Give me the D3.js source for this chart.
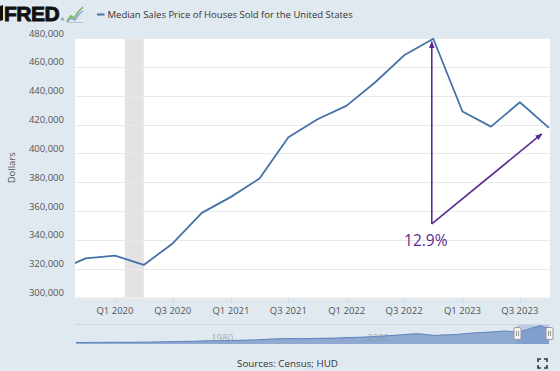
<!DOCTYPE html>
<html>
<head>
<meta charset="utf-8">
<script src="https://cdn.jsdelivr.net/npm/d3@7"></script>
<style>
  html, body { margin: 0; padding: 0; background: #e1e9f0; }
  svg { display: block; font-family: "Open Sans", sans-serif; }
</style>
</head>
<body>
<div id="chart"></div>
<script>
// --- data ---
const quarterDates = ["2019-07-01", "2019-10-01", "2020-01-01", "2020-04-01", "2020-07-01", "2020-10-01",
  "2021-01-01", "2021-04-01", "2021-07-01", "2021-10-01", "2022-01-01", "2022-04-01", "2022-07-01",
  "2022-10-01", "2023-01-01", "2023-04-01", "2023-07-01", "2023-10-01"];
const prices = [318400, 327100, 329000, 322600, 337500, 358700, 369800, 382600, 411200, 423600,
  433100, 449300, 468000, 479500, 429000, 418500, 435400, 417700];

const yTicks = [300000, 320000, 340000, 360000, 380000, 400000, 420000, 440000, 460000, 480000];
const xTickDates = ["2020-01-01", "2020-07-01", "2021-01-01", "2021-07-01", "2022-01-01", "2022-07-01", "2023-01-01", "2023-07-01"];
const xTickLabels = ["Q1 2020", "Q3 2020", "Q1 2021", "Q3 2021", "Q1 2022", "Q3 2022", "Q1 2023", "Q3 2023"];
const viewStart = "2019-08-28";
const viewEnd = "2023-10-01";
const recession = ["2020-02-01", "2020-04-01"];

// annotation: arrows from a common origin to the peak and to the latest value
const annoOrigin = { date: "2022-10-01", value: 351000 };
const annoTips = [
  { date: "2022-10-01", value: 477500 },
  { date: "2023-09-08", value: 413500 }
];
const annoLabel = "12.9%";

// navigator (full history, approx.)
const navDates = ["1963-01-01", "1965-01-01", "1968-01-01", "1970-01-01", "1972-01-01", "1974-01-01",
  "1976-01-01", "1978-01-01", "1980-01-01", "1982-01-01", "1984-01-01", "1986-01-01", "1988-01-01",
  "1990-01-01", "1992-01-01", "1994-01-01", "1996-01-01", "1998-01-01", "2000-01-01", "2002-01-01",
  "2004-01-01", "2006-01-01", "2007-01-01", "2008-01-01", "2009-01-01", "2010-01-01", "2011-01-01",
  "2012-01-01", "2013-01-01", "2014-01-01", "2015-01-01", "2016-01-01", "2017-01-01", "2018-01-01",
  "2019-01-01", "2020-04-01", "2021-01-01", "2021-07-01", "2022-01-01", "2022-10-01", "2023-04-01",
  "2023-07-01", "2023-10-01"];
const navValues = [17800, 20000, 24700, 23900, 26900, 35200, 42800, 51600, 63700, 66400, 78200, 88000,
  110000, 123900, 119500, 130000, 137000, 152000, 165300, 188700, 212700, 247700, 257400, 233900,
  208400, 222900, 226900, 238400, 258400, 275200, 289200, 299800, 313100, 331800, 313000, 322600,
  369800, 411200, 433100, 479500, 418500, 435400, 417700];
const navTickDates = ["1980-01-01", "2000-01-01"];
const navTickLabels = ["1980", "2000"];

const title = "Median Sales Price of Houses Sold for the United States";
const yTitle = "Dollars";
const source = "Sources: Census; HUD";

// --- layout ---
const width = 560, height = 371;
const plot = { left: 75, right: 550, top: 38, bottom: 297.5 };
const nav = { top: 325, bottom: 344 };
const lineColor = "#4572a7";
const annoColor = "#5b2a91";
const parse = d3.utcParse("%Y-%m-%d");

const svg = d3.select("#chart").append("svg")
  .attr("width", width).attr("height", height);

svg.append("rect").attr("width", width).attr("height", height).attr("fill", "#e1e9f0");

const x = d3.scaleUtc().domain([parse(viewStart), parse(viewEnd)]).range([plot.left, plot.right - 1]);
const y = d3.scaleLinear().domain([300000, 480000]).range([plot.bottom, plot.top]);

// plot background
svg.append("rect")
  .attr("x", plot.left).attr("y", plot.top)
  .attr("width", plot.right - plot.left).attr("height", plot.bottom - plot.top)
  .attr("fill", "#ffffff");

// recession band
svg.append("rect")
  .attr("x", x(parse(recession[0]))).attr("y", plot.top)
  .attr("width", x(parse(recession[1])) - x(parse(recession[0])))
  .attr("height", plot.bottom - plot.top)
  .attr("fill", "#e3e3e3");

// gridlines + y labels
svg.append("g").selectAll("line").data(yTicks).join("line")
  .attr("x1", plot.left).attr("x2", plot.right)
  .attr("y1", d => Math.round(y(d)) + 0.5).attr("y2", d => Math.round(y(d)) + 0.5)
  .attr("stroke", "#e9e9e9").attr("stroke-width", 1);

svg.append("g").selectAll("text").data(yTicks).join("text")
  .attr("x", 64).attr("y", d => y(d) - 1.5)
  .attr("text-anchor", "end")
  .attr("font-size", 9.5).attr("fill", "#555")
  .text(d => d3.format(",")(d));

svg.append("text")
  .attr("transform", `translate(15,${(plot.top + plot.bottom) / 2}) rotate(-90)`)
  .attr("text-anchor", "middle")
  .attr("font-size", 9.5).attr("fill", "#555")
  .text(yTitle);

// x ticks + labels
const xTicks = xTickDates.map(parse);
svg.append("g").selectAll("line").data(xTicks).join("line")
  .attr("x1", d => Math.round(x(d)) + 0.5).attr("x2", d => Math.round(x(d)) + 0.5)
  .attr("y1", plot.bottom + 1).attr("y2", plot.bottom + 6)
  .attr("stroke", "#ccd6eb");

svg.append("g").selectAll("text").data(xTicks).join("text")
  .attr("x", d => x(d)).attr("y", 313.5)
  .attr("text-anchor", "middle")
  .attr("font-size", 9.5).attr("fill", "#555")
  .text((d, i) => xTickLabels[i]);

// series line (clipped to the plot)
svg.append("clipPath").attr("id", "clip")
  .append("rect")
  .attr("x", plot.left).attr("y", plot.top - 5)
  .attr("width", plot.right - plot.left).attr("height", plot.bottom - plot.top + 10);

const series = quarterDates.map((d, i) => ({ date: parse(d), value: prices[i] }));
svg.append("path")
  .datum(series)
  .attr("clip-path", "url(#clip)")
  .attr("fill", "none")
  .attr("stroke", lineColor)
  .attr("stroke-width", 1.8)
  .attr("stroke-linejoin", "round")
  .attr("d", d3.line().x(d => x(d.date)).y(d => y(d.value)));

// annotation arrows
const defs = svg.append("defs");
defs.append("marker")
  .attr("id", "arrow")
  .attr("viewBox", "0 0 10 10")
  .attr("refX", 9).attr("refY", 5)
  .attr("markerWidth", 7).attr("markerHeight", 7)
  .attr("markerUnits", "userSpaceOnUse")
  .attr("orient", "auto")
  .append("path")
  .attr("d", "M0,1 L10,5 L0,9 Z")
  .attr("fill", annoColor);

const ox = x(parse(annoOrigin.date)) - 1.5, oy = y(annoOrigin.value);
svg.append("g").selectAll("line").data(annoTips).join("line")
  .attr("x1", ox).attr("y1", oy)
  .attr("x2", d => x(parse(d.date)) - (d.date === annoOrigin.date ? 1.5 : 0))
  .attr("y2", d => y(d.value))
  .attr("stroke", annoColor).attr("stroke-width", 1.6)
  .attr("marker-end", "url(#arrow)");

svg.append("text")
  .attr("x", ox - 6).attr("y", oy + 22.5)
  .attr("text-anchor", "middle")
  .attr("font-size", 15.5).attr("fill", annoColor)
  .attr("font-family", "'Open Sans', sans-serif")
  .text(annoLabel);

// --- navigator ---
const nx = d3.scaleUtc().domain([parse(navDates[0]), parse(viewEnd)]).range([plot.left + 1, plot.right - 1]);
const ny = d3.scaleLinear().domain([d3.min(navValues), d3.max(navValues)]).range([nav.bottom - 1.5, nav.top + 0.5]);
const navSeries = navDates.map((d, i) => ({ date: parse(d), value: navValues[i] }));

svg.append("line")
  .attr("x1", plot.left).attr("x2", plot.right)
  .attr("y1", nav.top - 0.5).attr("y2", nav.top - 0.5)
  .attr("stroke", "#cfd6de");

svg.append("path")
  .datum(navSeries)
  .attr("fill", "#8fa9d1")
  .attr("d", d3.area().x(d => nx(d.date)).y0(nav.bottom).y1(d => ny(d.value)));

svg.append("path")
  .datum(navSeries)
  .attr("fill", "none").attr("stroke", "#5b82bb").attr("stroke-width", 1)
  .attr("d", d3.line().x(d => nx(d.date)).y(d => ny(d.value)));

// selected range mask
const s0 = nx(parse(viewStart)), s1 = nx(parse(viewEnd));
svg.append("rect")
  .attr("x", s0).attr("y", nav.top).attr("width", s1 - s0).attr("height", nav.bottom - nav.top)
  .attr("fill", "rgba(102,133,194,0.3)");

// navigator labels
svg.append("g").selectAll("text").data(navTickDates).join("text")
  .attr("x", d => nx(parse(d)) + 3).attr("y", 340.5)
  .attr("font-size", 9.5).attr("fill", "#8a97a8").attr("opacity", 0.75)
  .text((d, i) => navTickLabels[i]);

// handles
const handles = svg.append("g").selectAll("g").data([s0, s1]).join("g")
  .attr("transform", d => `translate(${Math.round(d) + 0.5},0)`);
handles.append("rect")
  .attr("x", -3.5).attr("y", 327.5).attr("width", 7).attr("height", 12).attr("rx", 1.5)
  .attr("fill", "#f2f2f2").attr("stroke", "#999");
handles.append("path")
  .attr("d", "M-1,331V336M1,331V336")
  .attr("stroke", "#999").attr("fill", "none");

// --- header: FRED logo + legend ---
svg.append("path").attr("d", "M0,6 L3,5 L3,20 L0,21 Z").attr("fill", "#111");
svg.append("text")
  .attr("x", 4).attr("y", 21)
  .attr("font-family", "'Liberation Sans', Arial, sans-serif")
  .attr("font-weight", "bold").attr("font-size", 21)
  .attr("letter-spacing", -0.5)
  .attr("fill", "#111").attr("stroke", "#111").attr("stroke-width", 0.9)
  .text("FRED");
svg.append("text").attr("x", 61).attr("y", 21).attr("font-size", 3.5).attr("fill", "#111").text("®");
const icon = svg.append("g").attr("transform", "translate(67,6)");
icon.append("path").attr("d", "M0,16.5 H16").attr("stroke", "#a9b6c4").attr("stroke-width", 0.8);
icon.append("path").attr("d", "M0,16 L4,12 L8,14 L12,8 L16,5").attr("fill", "none").attr("stroke", "#7ea5d4").attr("stroke-width", 1.5);
icon.append("path").attr("d", "M0,15 L4,10 L7,12 L11,6 L16,1").attr("fill", "none").attr("stroke", "#86b86a").attr("stroke-width", 1.7);

svg.append("line")
  .attr("x1", 97).attr("x2", 104.5).attr("y1", 14.5).attr("y2", 14.5)
  .attr("stroke", lineColor).attr("stroke-width", 2);
svg.append("text")
  .attr("x", 107.5).attr("y", 18)
  .attr("font-size", 9.5).attr("fill", "#333")
  .text(title);

// footer
svg.append("text")
  .attr("x", 287.5).attr("y", 366.5)
  .attr("text-anchor", "middle")
  .attr("font-size", 9.8).attr("fill", "#333")
  .text(source);

// fullscreen icon
svg.append("path")
  .attr("d", "M538,362V359H541 M544,359H547V362 M547,365V368H544 M541,368H538V365")
  .attr("fill", "none").attr("stroke", "#333").attr("stroke-width", 1.6);
</script>
</body>
</html>
